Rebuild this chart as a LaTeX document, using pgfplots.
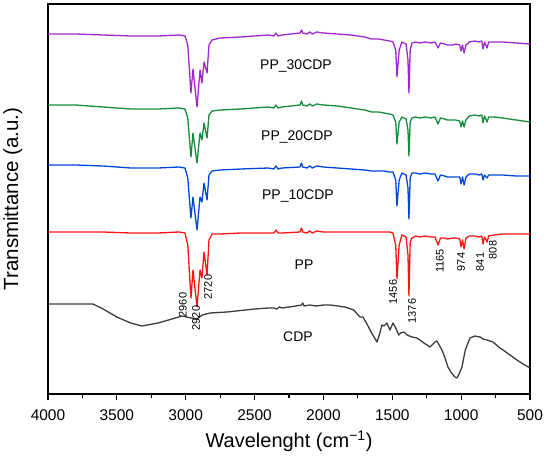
\documentclass[border=0pt]{standalone}
\usepackage{pgfplots}
\pgfplotsset{compat=1.18}
\usepackage{pgfplotstable}
\usepackage{fontspec}
\setmainfont{Liberation Sans}
\definecolor{cpur}{RGB}{158,40,205}
\definecolor{cgrn}{RGB}{20,140,60}
\definecolor{cblu}{RGB}{0,70,220}
\definecolor{cred}{RGB}{250,20,20}
\definecolor{cblk}{RGB}{60,60,60}
\pgfplotstableread{
wn p g b r
4000 34 105 165 232
3800 34 105 165 232
3600 35 107 166 232
3400 36 109 168 233
3200 36 109 168 233
3050 35 108 167 232
3005 36 109 168 233
2985 45 118 178 245
2962 93 157 218 298
2947 69 133 197 270
2918 107 163 230 307
2896 70 133 197 270
2882 83 140 202 278
2867 62 123 183 252
2845 73 138 200 275
2831 45 115 175 240
2809 40 111 171 234
2750 38 110 170 234
2600 37 109 169 233
2400 35 107 168 233
2360 36 108 169 233
2345 33 105 166 230
2330 36 108 169 233
2300 35 107 168 233
2170 33 105 167 232
2160 30 101 163 228
2150 33 105 167 232
2120 34 106 168 233
2100 32 104 166 231
2080 34 106 168 233
2050 32 104 166 231
2000 33 105 167 232
1900 34 106 168 232
1800 35 108 169 232
1700 37 110 170 232
1650 39 112 171 232
1600 39 112 171 232
1560 40 113 171 232
1520 41 114 172 232
1495 42 115 172 233
1475 50 122 180 245
1466 77 144 206 279
1450 50 122 180 245
1430 42 117 173 235
1400 44 119 175 237
1386 60 130 188 255
1379 93 156 219 296
1370 50 122 178 242
1357 43 118 173 238
1330 42 117 173 236
1300 43 118 174 237
1260 42 117 173 236
1220 43 118 174 237
1190 42 117 174 237
1168 48 124 181 245
1150 43 118 175 238
1120 44 119 176 238
1100 45 120 177 239
1060 45 120 177 238
1040 44 120 177 238
1010 45 121 177 239
1001 51 127 184 247
990 45 121 177 240
979 53 127 185 249
965 45 120 177 238
940 42 116 174 236
900 41 115 174 236
870 42 116 175 237
850 41 115 174 236
841 49 123 180 244
830 42 116 175 237
812 48 122 178 242
800 42 117 175 236
760 42 117 175 235
700 42 118 175 234
600 43 120 176 234
500 44 122 176 234
}\pptable
\pgfplotstableread{
wn y
4000 304
3800 304
3673 304
3600 309
3500 317
3400 323
3317 326
3200 323
3100 319
3027 316
2960 318
2918 319
2880 315
2824 313
2700 312
2500 309
2400 308
2360 308
2340 309
2320 307
2300 308
2200 306
2160 305
2150 303
2140 306
2100 305
2050 306
2000 305
1950 305
1843 307
1780 310
1735 317
1713 317
1680 325
1650 333
1611 342
1590 333
1575 325
1560 326
1539 323
1517 330
1495 323
1475 328
1452 335
1440 333
1415 332
1393 335
1357 337
1321 338
1300 340
1260 344
1248 345
1226 347
1190 342
1176 341
1160 345
1139 350
1117 358
1096 367
1070 373
1045 377
1030 378
1015 374
994 367
970 350
936 338
900 336
863 337
841 339
812 340
769 342
718 348
696 350
645 355
595 360
550 364
500 368
}\cdptable
\begin{document}
\begin{tikzpicture}
\begin{axis}[name=ax,
  scale only axis, width=482pt, height=390pt,
  xmin=500, xmax=4000, x dir=reverse,
  ymin=4, ymax=394, y dir=reverse,
  xtick={500,1000,...,4000}, minor x tick num=1,
  ytick=\empty,
  tick align=outside, xtick pos=bottom,
  major tick length=6pt, minor tick length=4pt,
  every tick/.style={black, line width=1.2pt},
  axis line style={line width=1.5pt},
  /pgf/number format/assume math mode=true,
  /pgf/number format/1000 sep={},
  xticklabel style={font=\fontsize{15.5}{18}\selectfont, yshift=-6pt},
  xlabel={Wavelenght (cm\textsuperscript{−1})},
  ylabel={Transmittance (a.u.)},
  xlabel style={font=\fontsize{20}{24}\selectfont, yshift=-3pt},
  ylabel style={font=\fontsize{20.5}{24}\selectfont, yshift=16pt},
  clip=false,
  every axis plot/.append style={line width=1.3pt, line join=round},
]
\addplot[cpur] table[x=wn, y=p] {\pptable};
\addplot[cgrn] table[x=wn, y=g] {\pptable};
\addplot[cblu] table[x=wn, y=b] {\pptable};
\addplot[cred] table[x=wn, y=r] {\pptable};
\addplot[cblk] table[x=wn, y=y] {\cdptable};
\begin{scope}[every node/.style={font=\fontsize{14}{16}\selectfont}]
\node at (axis cs:2199,66) {PP\_30CDP};
\node at (axis cs:2192,137) {PP\_20CDP};
\node at (axis cs:2185,196) {PP\_10CDP};
\node at (axis cs:2141,265) {PP};
\node at (axis cs:2185,337) {CDP};
\end{scope}
\begin{scope}[every node/.style={font=\fontsize{11}{12}\selectfont, rotate=90, inner sep=0pt}]
\node at (axis cs:3020,305) {2960};
\node at (axis cs:2925,318) {2920};
\node at (axis cs:2838,287) {2720};
\node at (axis cs:1495,292) {1456};
\node at (axis cs:1357,311) {1376};
\node at (axis cs:1154,261) {1165};
\node at (axis cs:1001,262) {974};
\node at (axis cs:863,262) {841};
\node at (axis cs:769,250) {808};
\end{scope}
\end{axis}
\path ([xshift=-48pt,yshift=-68pt]ax.south west) rectangle ([xshift=20pt,yshift=4pt]ax.north east);
\end{tikzpicture}
\end{document}
